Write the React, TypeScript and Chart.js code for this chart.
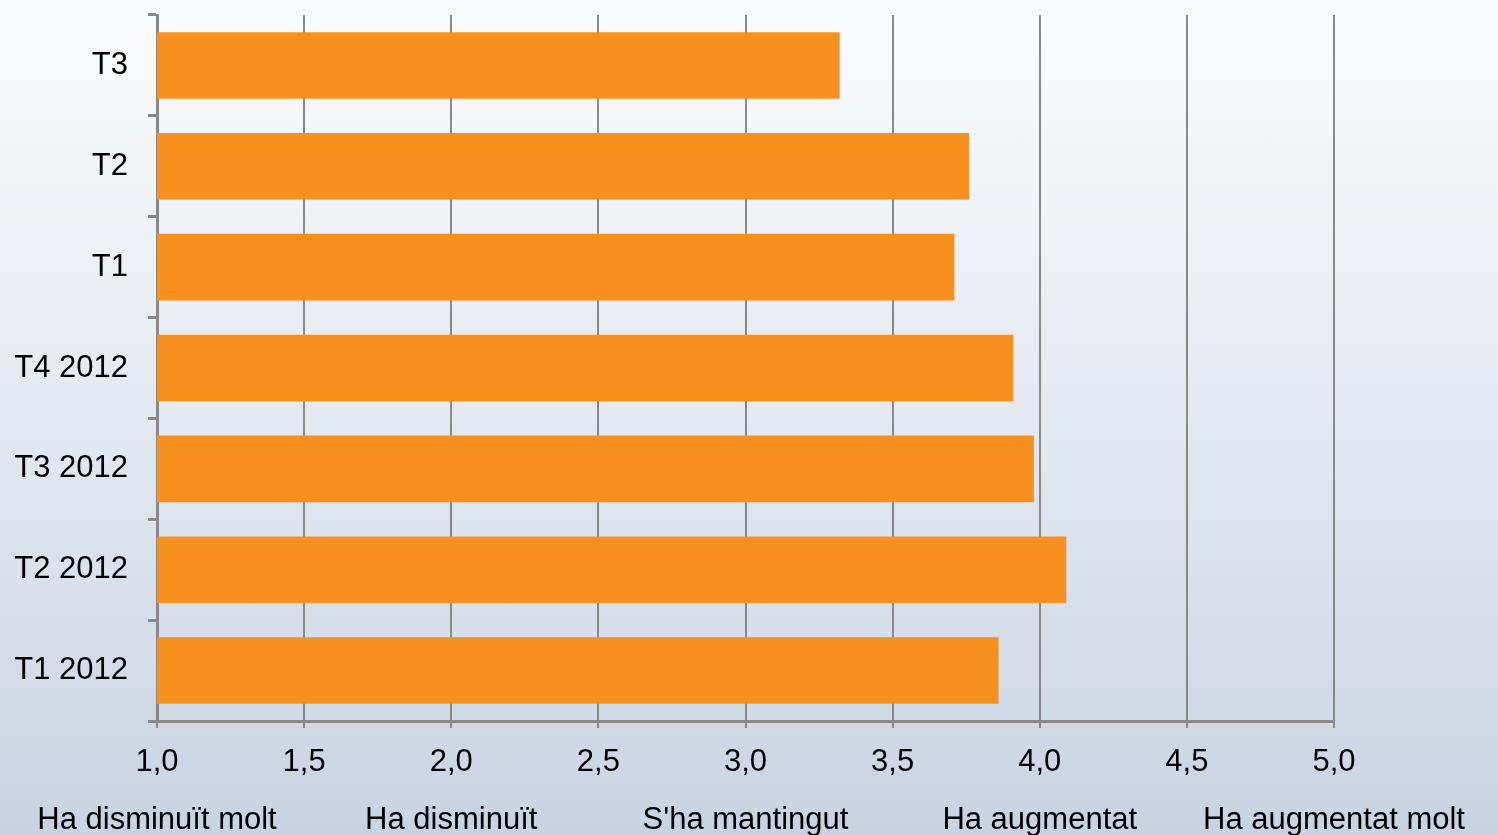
import React, { useEffect, useRef } from "react";
import { Chart, registerables } from "chart.js";

Chart.register(...registerables);

const categories = ["T3", "T2", "T1", "T4 2012", "T3 2012", "T2 2012", "T1 2012"];
const values = [3.32, 3.76, 3.71, 3.91, 3.98, 4.09, 3.86];
const scaleLabels = ["Ha disminuït molt", "Ha disminuït", "S'ha mantingut", "Ha augmentat", "Ha augmentat molt"];
const xMin = 1;
const xMax = 5;

const FONT = "'Liberation Sans', Arial, sans-serif";
const FS = 31;

export default function App() {
  const ref = useRef<HTMLCanvasElement>(null);
  useEffect(() => {
    if (!ref.current) return;
    const chart = new Chart(ref.current, {
      type: "bar",
      data: {
        labels: categories,
        datasets: [
          {
            data: values,
            backgroundColor: "#F7901E",
            borderWidth: 0,
            barPercentage: 0.66,
            categoryPercentage: 1,
          },
        ],
      },
      options: {
        indexAxis: "y",
        animation: false,
        responsive: false,
        maintainAspectRatio: false,
        layout: { padding: { top: 15, right: 164, left: 0, bottom: 0 } },
        plugins: { legend: { display: false }, tooltip: { enabled: false } },
        scales: {
          y: {
            position: "left",
            grid: {
              offset: true,
              drawOnChartArea: false,
              drawTicks: true,
              tickLength: 9,
              color: "#888888",
              lineWidth: 3,
            },
            border: { display: true, color: "#888888", width: 3 },
            ticks: {
              color: "#000",
              font: { family: FONT, size: FS },
              padding: 20,
            },
            afterFit: (s: any) => {
              s.width = 157;
              s.paddingTop = 0;
              s.paddingBottom = 0;
            },
          },
          x: {
            type: "linear",
            position: "bottom",
            min: xMin,
            max: xMax,
            grid: {
              color: "#888888",
              lineWidth: 2,
              drawTicks: true,
              tickLength: 7,
            },
            border: { display: true, color: "#888888", width: 3 },
            ticks: {
              stepSize: 0.5,
              color: "#000",
              font: { family: FONT, size: FS },
              padding: 16,
              callback: (v: any) => Number(v).toFixed(1).replace(".", ","),
            },
            afterFit: (s: any) => {
              s.height = 70;
              s.paddingLeft = 0;
              s.paddingRight = 0;
            },
          },
          x2: {
            type: "linear",
            position: "bottom",
            min: xMin,
            max: xMax,
            grid: { display: false, drawTicks: false },
            border: { display: false },
            ticks: {
              stepSize: 1,
              color: "#000",
              font: { family: FONT, size: FS },
              padding: 11,
              maxRotation: 0,
              autoSkip: false,
              callback: (v: any) => scaleLabels[Math.round(Number(v)) - 1] ?? "",
            },
            afterFit: (s: any) => {
              s.height = 44;
              s.paddingLeft = 0;
              s.paddingRight = 0;
            },
          },
        },
      },
    });
    return () => chart.destroy();
  }, []);
  return (
    <div
      style={{
        position: "fixed",
        left: 0,
        top: 0,
        width: 1498,
        height: 835,
        background: "linear-gradient(to bottom, #fafbfc 0%, #e6ebf1 45%, #c8d3e2 100%)",
      }}
    >
      <canvas ref={ref} width={1498} height={835} style={{ display: "block" }} />
    </div>
  );
}
